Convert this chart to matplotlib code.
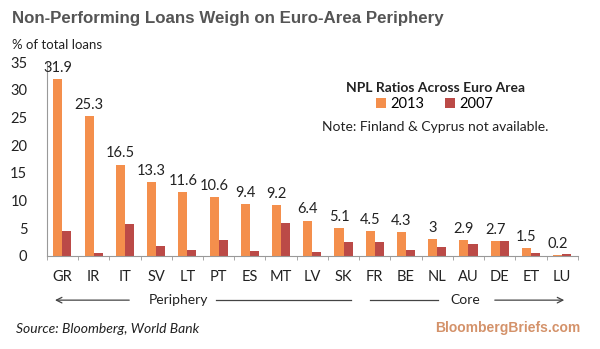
import numpy as np
import matplotlib
matplotlib.use('Agg')
import matplotlib.pyplot as plt

countries = ['GR', 'IR', 'IT', 'SV', 'LT', 'PT', 'ES', 'MT', 'LV', 'SK',
             'FR', 'BE', 'NL', 'AU', 'DE', 'ET', 'LU']
npl_2013 = [31.9, 25.3, 16.5, 13.3, 11.6, 10.6, 9.4, 9.2, 6.4, 5.1,
            4.5, 4.3, 3, 2.9, 2.7, 1.5, 0.2]
npl_2007 = [4.5, 0.5, 5.8, 1.8, 1.0, 2.8, 0.9, 5.9, 0.8, 2.5,
            2.6, 1.1, 1.7, 2.2, 2.7, 0.5, 0.4]
label_2013 = ['31.9', '25.3', '16.5', '13.3', '11.6', '10.6', '9.4', '9.2', '6.4', '5.1',
              '4.5', '4.3', '3', '2.9', '2.7', '1.5', '0.2']

orange = '#f48f4c'
darkred = '#bb4a47'
grey = '#555555'
body_font = 'Lato'

fig = plt.figure(figsize=(6, 3.49), dpi=100)
ax = fig.add_axes([0.078, 0.2665, 0.885, 0.5555])

x = np.arange(len(countries))
w = 0.29
b13 = ax.bar(x - w / 2, npl_2013, w, color=orange, label='2013')
b07 = ax.bar(x + w / 2, npl_2007, w, color=darkred, label='2007')
ax.bar_label(b13, labels=label_2013, padding=3, fontsize=10.5,
             family=body_font, color='#222222')

ax.set_xlim(-0.5, len(countries) - 0.5)
ax.set_ylim(0, 35)
ax.set_yticks(range(0, 36, 5))
ax.set_xticks(x)
ax.set_xticklabels(countries)
ax.set_xticks(np.arange(-0.5, len(countries), 1), minor=True)
ax.tick_params(axis='x', which='major', length=0, pad=10, labelsize=10.5)
ax.tick_params(axis='x', which='minor', length=3, color='#999999')
ax.tick_params(axis='y', length=0, pad=14, labelsize=10.5)
for lab in ax.get_xticklabels() + ax.get_yticklabels():
    lab.set_family(body_font)
    lab.set_color('#222222')
for s in ['top', 'right']:
    ax.spines[s].set_visible(False)
ax.spines['left'].set_color('#999999')
ax.spines['bottom'].set_color('#999999')

# legend block
fig.text(0.725, 0.735, 'NPL Ratios Across Euro Area', ha='center', fontsize=10,
         fontweight='bold', family=body_font, color='#222222')
leg = ax.legend(loc='upper center', bbox_to_anchor=(0.725, 0.76),
                bbox_transform=fig.transFigure, ncol=2, frameon=False,
                prop={'family': body_font, 'size': 10.5}, handlelength=0.7,
                handleheight=0.7, columnspacing=1.4, handletextpad=0.3)
fig.text(0.725, 0.625, 'Note: Finland & Cyprus not available.', ha='center',
         fontsize=10, family=body_font, color='#222222')

# title and units
fig.text(0.02, 0.935, 'Non-Performing Loans Weigh on Euro-Area Periphery',
         fontsize=12.2, fontweight='bold', family='Liberation Sans', color=grey)
fig.text(0.02, 0.86, '% of total loans', fontsize=9.5, family=body_font,
         color='#222222')

# periphery / core arrows
yarr = 0.14
ax.annotate('', xy=(0.087, yarr), xytext=(0.22, yarr), xycoords='figure fraction',
            arrowprops=dict(arrowstyle='->', color='#444444', lw=0.9))
fig.text(0.297, yarr, 'Periphery', ha='center', va='center', fontsize=10,
         family=body_font, color='#222222')
fig.add_artist(plt.Line2D([0.36, 0.585], [yarr, yarr], color='#444444', lw=0.9))
fig.add_artist(plt.Line2D([0.617, 0.73], [yarr, yarr], color='#444444', lw=0.9))
fig.text(0.775, yarr, 'Core', ha='center', va='center', fontsize=10,
         family=body_font, color='#222222')
ax.annotate('', xy=(0.945, yarr), xytext=(0.82, yarr), xycoords='figure fraction',
            arrowprops=dict(arrowstyle='->', color='#444444', lw=0.9))

fig.text(0.027, 0.045, 'Source: Bloomberg, World Bank', fontsize=10,
         style='italic', family=body_font, color='#222222')
fig.text(0.968, 0.05, 'BloombergBriefs.com', ha='right', fontsize=10,
         fontweight='bold', family='Liberation Sans', color='#d4926a')

fig.savefig('out.png', dpi=100)
